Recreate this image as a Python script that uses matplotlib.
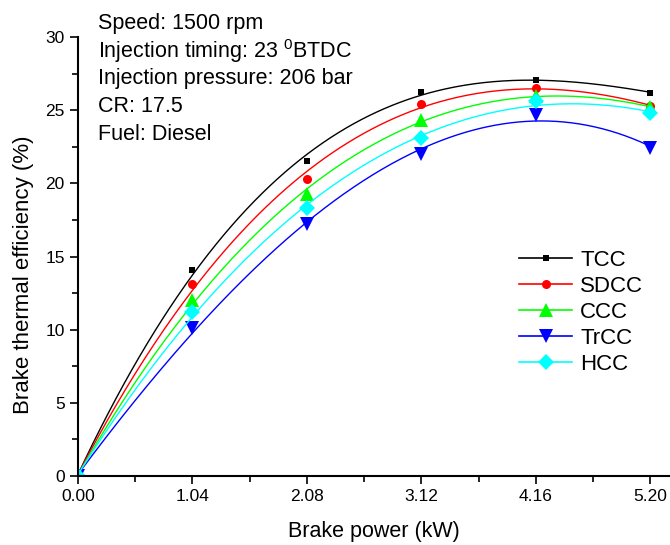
import numpy as np
import matplotlib
matplotlib.use("Agg")
import matplotlib.pyplot as plt
from matplotlib.ticker import MultipleLocator, FixedLocator

plt.rcParams['font.family'] = ['Liberation Sans', 'DejaVu Sans']
plt.rcParams['mathtext.fontset'] = 'custom'
plt.rcParams['mathtext.rm'] = 'Liberation Sans'

brake_power = [0.0, 1.04, 2.08, 3.12, 4.16, 5.20]
tcc = [0.0, 14.1, 21.5, 26.25, 27.07, 26.2]
sdcc = [0.0, 13.1, 20.3, 25.4, 26.5, 25.3]
ccc = [0.0, 12.0, 19.3, 24.3, 26.0, 25.2]
trcc = [0.0, 10.1, 17.2, 22.0, 24.7, 22.4]
hcc = [0.0, 11.2, 18.3, 23.1, 25.6, 24.8]

series = [
    ("TCC", tcc, "black", "s", 5),
    ("SDCC", sdcc, "red", "o", 6.5),
    ("CCC", ccc, "#00ff00", "^", 10),
    ("TrCC", trcc, "blue", "v", 10),
    ("HCC", hcc, "cyan", "D", 8.5),
]

fig = plt.figure(figsize=(6.7, 5.45), dpi=100)
ax = fig.add_axes([0.1164, 0.1266, 0.8836, 0.8054])

x = np.array(brake_power)
xs = np.linspace(0, 5.2, 300)
for name, ys, c, m, ms in series:
    coef = np.polyfit(x, np.array(ys), 3)
    ax.plot(xs, np.polyval(coef, xs), color=c, lw=1.0)
    ax.plot(x, ys, linestyle='none', marker=m, color=c, markersize=ms, markeredgewidth=0)

# legend proxies
handles = []
for name, ys, c, m, ms in series:
    h, = ax.plot([], [], color=c, lw=1.2, marker=m, markersize=ms, markeredgewidth=0, label=name)
    handles.append(h)
ax.legend(handles=handles, loc='upper left', bbox_to_anchor=(0.745, 0.515), frameon=False,
          fontsize=16, handlelength=2.4, labelspacing=0.22, handletextpad=0.35,
          borderaxespad=0, borderpad=0)

ax.set_xlim(0, 5.38)
ax.set_ylim(0, 30)
ax.xaxis.set_major_locator(FixedLocator(brake_power))
ax.xaxis.set_minor_locator(FixedLocator([0.52, 1.56, 2.60, 3.64, 4.68]))
ax.set_xticklabels(["0.00", "1.04", "2.08", "3.12", "4.16", "5.20"])
ax.yaxis.set_major_locator(MultipleLocator(5))
ax.yaxis.set_minor_locator(MultipleLocator(2.5))
ax.tick_params(which='both', direction='out', labelsize=12.5, width=1.2)
ax.tick_params(which='major', length=6)
ax.tick_params(which='minor', length=4)
for s in ['top', 'right']:
    ax.spines[s].set_visible(False)
for s in ['left', 'bottom']:
    ax.spines[s].set_linewidth(1.5)

ax.set_xlabel("Brake power (kW)", fontsize=15.5, labelpad=12)
ax.set_ylabel("Brake thermal efficiency (%)", fontsize=16)
ax.yaxis.set_label_coords(-0.074, 0.458)

lines = ["Speed: 1500 rpm", "Injection timing: 23 $^{0}$BTDC",
         "Injection pressure: 206 bar", "CR: 17.5", "Fuel: Diesel"]
for i, t in enumerate(lines):
    fig.text(98/670, 1 - (23.5 + i*27.7)/545, t, fontsize=15.5, va='center', ha='left')

fig.savefig("out.png", dpi=100)
